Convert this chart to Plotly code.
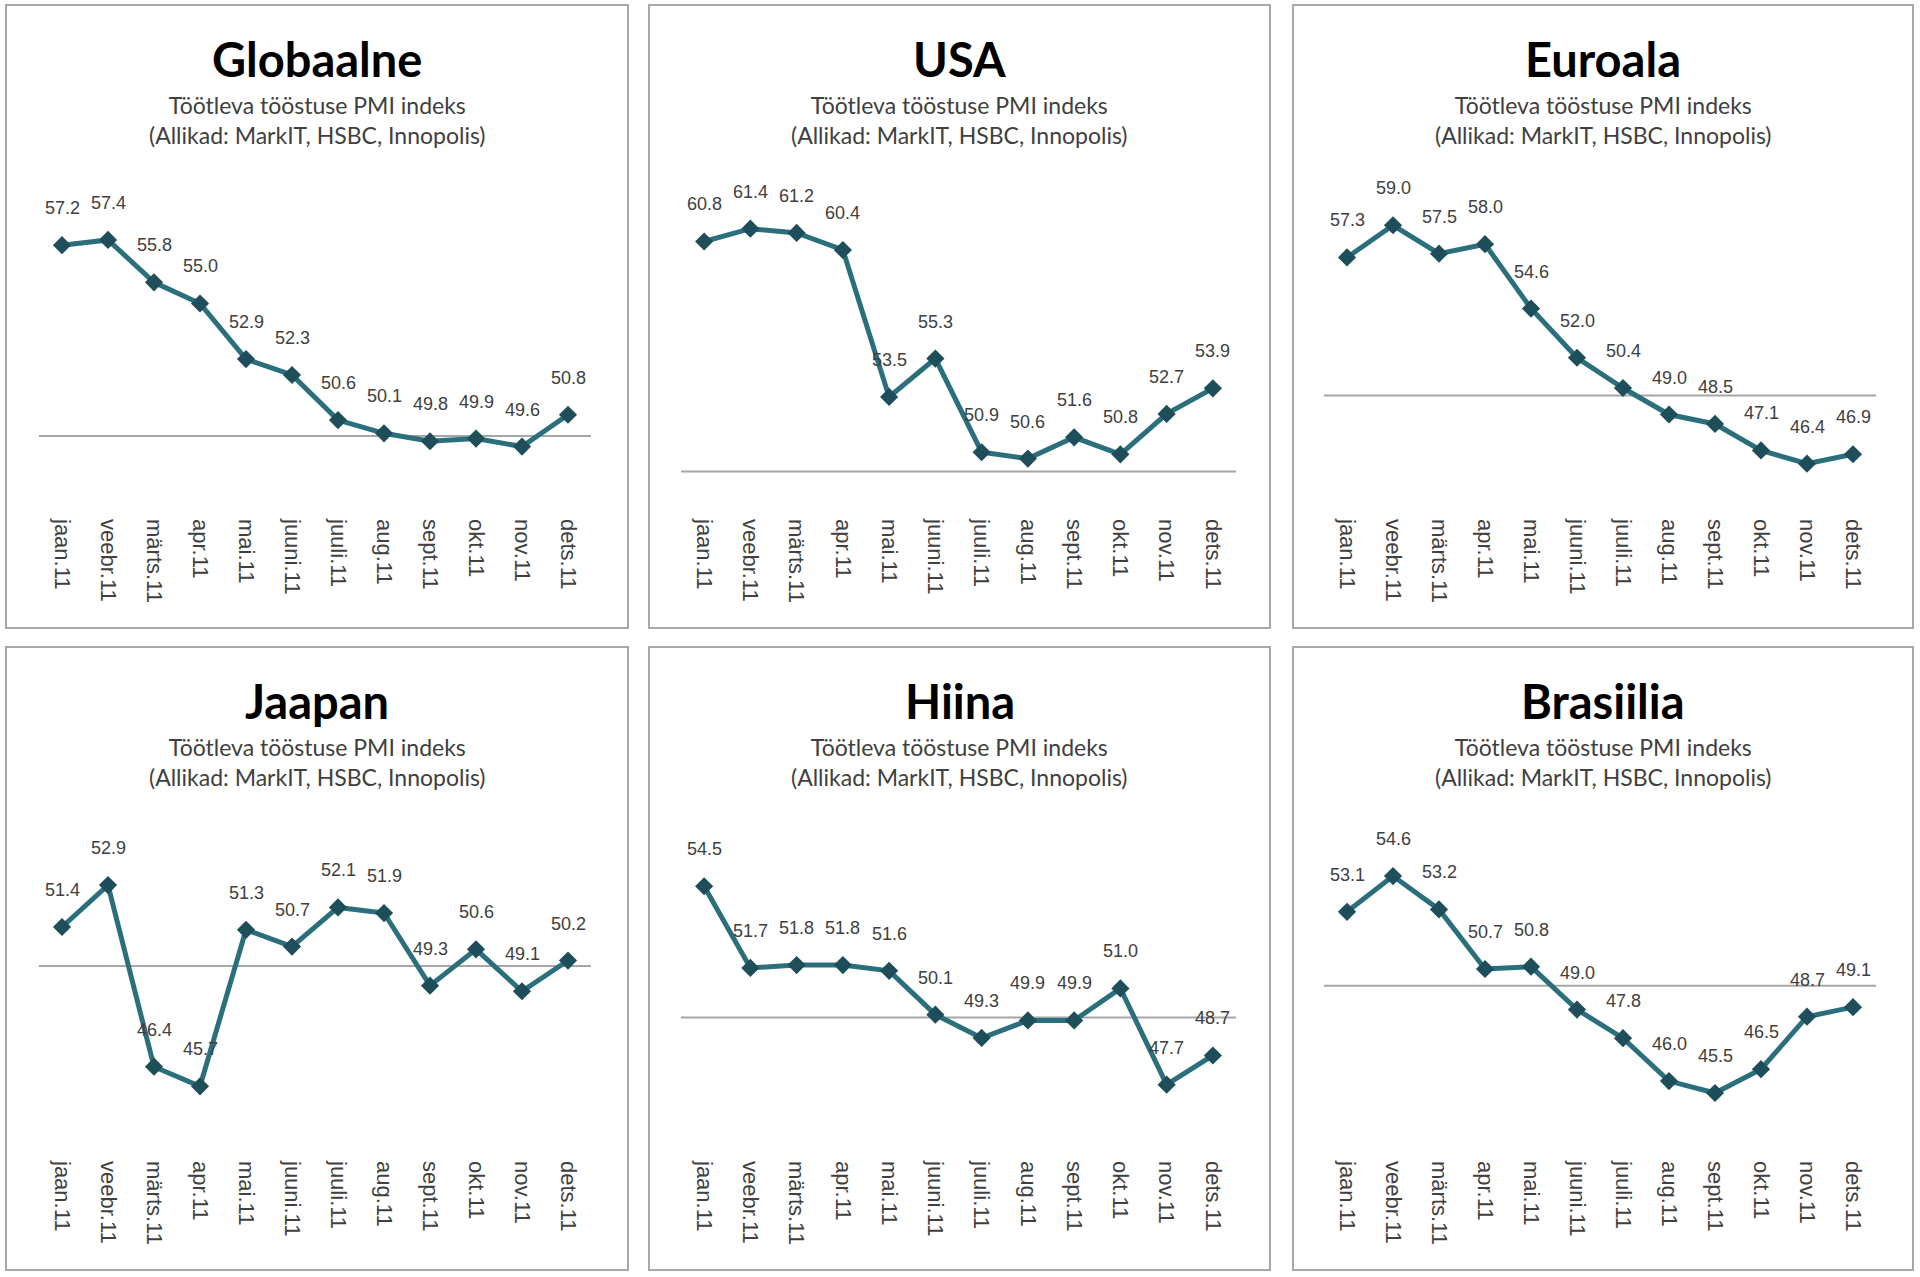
import plotly.graph_objects as go

W, H = 1920, 1277

months = ["jaan.11", "veebr.11", "märts.11", "apr.11", "mai.11", "juuni.11",
          "juuli.11", "aug.11", "sept.11", "okt.11", "nov.11", "dets.11"]

titles = ["Globaalne", "USA", "Euroala", "Jaapan", "Hiina", "Brasiilia"]
subtitle = "Töötleva tööstuse PMI indeks<br>(Allikad: MarkIT, HSBC, Innopolis)"

globaalne = [57.2, 57.4, 55.8, 55.0, 52.9, 52.3, 50.6, 50.1, 49.8, 49.9, 49.6, 50.8]
usa = [60.8, 61.4, 61.2, 60.4, 53.5, 55.3, 50.9, 50.6, 51.6, 50.8, 52.7, 53.9]
euroala = [57.3, 59.0, 57.5, 58.0, 54.6, 52.0, 50.4, 49.0, 48.5, 47.1, 46.4, 46.9]
jaapan = [51.4, 52.9, 46.4, 45.7, 51.3, 50.7, 52.1, 51.9, 49.3, 50.6, 49.1, 50.2]
hiina = [54.5, 51.7, 51.8, 51.8, 51.6, 50.1, 49.3, 49.9, 49.9, 51.0, 47.7, 48.7]
brasiilia = [53.1, 54.6, 53.2, 50.7, 50.8, 49.0, 47.8, 46.0, 45.5, 46.5, 48.7, 49.1]

series = [globaalne, usa, euroala, jaapan, hiina, brasiilia]
axis_cross = 50

# layout (pixel geometry)
y_ranges = [[47.28, 59.51], [48.28, 63.5], [44.06, 61.18],
            [43.42, 55.05], [45.46, 56.6], [43.11, 56.74]]
plot_x_px = [(39, 591), (681, 1236), (1324, 1876)]
plot_y_px = [(184, 508), (825, 1150)]
box_x_px = [(6, 628), (649, 1270), (1293, 1913)]
box_y_px = [(5, 628), (647, 1270)]
title_y_px = [(59, 120), (701, 762)]

LINE = "#2b6f7d"
MARK = "#1f4e5b"

def fx(px):
    return px / W

def fy(py):
    return 1 - py / H

fig = go.Figure()
layout = dict(width=W, height=H, margin=dict(l=0, r=0, t=0, b=0),
              paper_bgcolor="white", plot_bgcolor="white", showlegend=False)
shapes = []
annotations = []

for i, (name, vals) in enumerate(zip(titles, series)):
    row, col = divmod(i, 3)
    n = i + 1
    xa = "x" if n == 1 else f"x{n}"
    ya = "y" if n == 1 else f"y{n}"
    fig.add_trace(go.Scatter(
        x=months, y=vals, xaxis=xa, yaxis=ya, mode="lines+markers",
        line=dict(color=LINE, width=5),
        marker=dict(symbol="diamond", size=14, color=MARK),
        hoverinfo="x+y"))
    x0, x1 = plot_x_px[col]
    y0, y1 = plot_y_px[row]
    layout["xaxis" if n == 1 else f"xaxis{n}"] = dict(
        domain=[fx(x0), fx(x1)], anchor=ya, type="category",
        range=[-0.5, 11.5], showgrid=False, zeroline=False, showline=False,
        ticks="", tickangle=90, ticklabelstandoff=10,
        tickfont=dict(family="Liberation Sans", size=22, color="#404040"))
    layout["yaxis" if n == 1 else f"yaxis{n}"] = dict(
        domain=[fy(y1), fy(y0)], anchor=xa, range=y_ranges[i],
        showgrid=False, zeroline=False, showline=False, showticklabels=False, ticks="")
    shapes.append(dict(type="line", xref=f"{xa} domain", yref=ya, x0=0, x1=1,
                       y0=axis_cross, y1=axis_cross, line=dict(color="#a6a6a6", width=2), layer="below"))
    bx0, bx1 = box_x_px[col]
    by0, by1 = box_y_px[row]
    shapes.append(dict(type="rect", xref="paper", yref="paper", x0=fx(bx0), x1=fx(bx1),
                       y0=fy(by1), y1=fy(by0), line=dict(color="#a8a8a8", width=2)))
    cx = (bx0 + bx1) / 2
    ty, sy = title_y_px[row]
    annotations.append(dict(xref="paper", yref="paper", x=fx(cx), y=fy(ty), text=f"<b>{name}</b>",
                            showarrow=False, xanchor="center", yanchor="middle",
                            font=dict(family="Lato", size=47, color="black")))
    annotations.append(dict(xref="paper", yref="paper", x=fx(cx), y=fy(sy), text=subtitle,
                            showarrow=False, xanchor="center", yanchor="middle",
                            font=dict(family="Lato", size=23, color="#404040")))
    for m, v in zip(months, vals):
        annotations.append(dict(xref=xa, yref=ya, x=m, y=v, text=f"{v:.1f}", showarrow=False,
                                yshift=37, xanchor="center", yanchor="middle",
                                font=dict(family="Liberation Sans", size=18, color="#404040")))

layout["shapes"] = shapes
layout["annotations"] = annotations
fig.update_layout(**layout)
fig.write_html("out.html", config={"displayModeBar": False},
               post_script="document.body.style.margin='0';")
